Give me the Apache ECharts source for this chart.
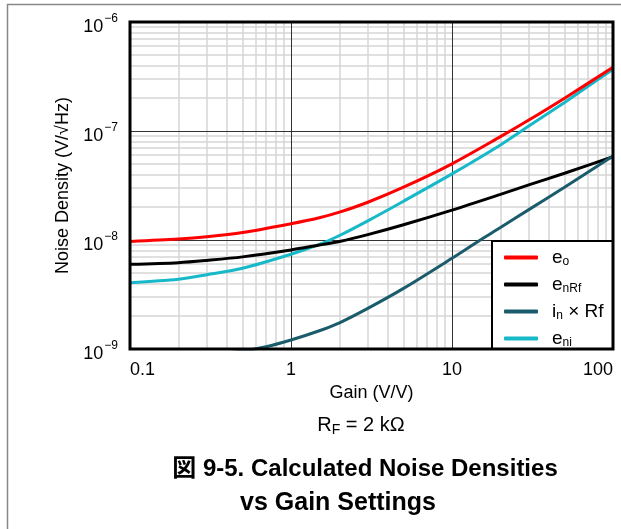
<!DOCTYPE html>
<html>
<head>
<meta charset="utf-8">
<script src="https://cdn.jsdelivr.net/npm/echarts@6/dist/echarts.min.js"></script>
<style>
html, body {margin: 0; padding: 0; background: #fff;}
#main {width: 621px; height: 529px;}
</style>
</head>
<body>
<div id="main"></div>
<script>
// gain (V/V) and noise densities (V/rtHz)
var gain = [0.1, 0.2, 0.3, 0.5, 1, 1.5, 2, 3, 5, 10, 20, 30, 50, 100];
var eo   = [9.7e-9, 1.02e-8, 1.07e-8, 1.17e-8, 1.41e-8, 1.6e-8, 1.8e-8, 2.22e-8, 3.05e-8, 5.0e-8, 8.87e-8, 1.26e-7, 2.0e-7, 3.84e-7];
var enRf = [5.98e-9, 6.2e-9, 6.5e-9, 7.0e-9, 8.1e-9, 9.0e-9, 9.7e-9, 1.12e-8, 1.38e-8, 1.88e-8, 2.62e-8, 3.2e-8, 4.1e-8, 5.8e-8];
var eni  = [4.06e-9, 4.36e-9, 4.8e-9, 5.5e-9, 7.4e-9, 9.1e-9, 1.1e-8, 1.5e-8, 2.27e-8, 4.04e-8, 7.45e-8, 1.11e-7, 1.83e-7, 3.68e-7];

var gainIn = [0.3, 0.5, 0.7, 1, 1.5, 2, 3, 5, 10, 15, 20, 30, 50, 100];
var inRf   = [0.88e-9, 0.96e-9, 1.05e-9, 1.21e-9, 1.47e-9, 1.74e-9, 2.36e-9, 3.6e-9, 6.8e-9, 1.0e-8, 1.3e-8, 1.9e-8, 3.05e-8, 5.9e-8];

var xTicks = [0.1, 1, 10, 100];
var yTicks = [1e-9, 1e-8, 1e-7, 1e-6];

var seriesNames = ['e_o', 'e_nRf', 'i_n × Rf', 'e_ni'];
var legendText = {
    'e_o': '{f|e}{s|o}',
    'e_nRf': '{f|e}{s|nRf}',
    'i_n × Rf': '{f|i}{s|n}{b| × Rf}',
    'e_ni': '{f|e}{s|ni}'
};

function pairs(xs, ys) {
    return xs.map(function (x, i) { return [x, ys[i]]; });
}

// light minor grid at 2..9 of every decade
var xMin = xTicks[0], xMax = xTicks[xTicks.length - 1];
var yMin = yTicks[0], yMax = yTicks[yTicks.length - 1];
var minorLines = [];
for (var i = 0; i < xTicks.length - 1; i++) {
    for (var k = 2; k <= 9; k++) {
        var vx = xTicks[i] * k;
        minorLines.push([{coord: [vx, yMin]}, {coord: [vx, yMax]}]);
    }
}
for (var i = 0; i < yTicks.length - 1; i++) {
    for (var k = 2; k <= 9; k++) {
        var vy = yTicks[i] * k;
        minorLines.push([{coord: [xMin, vy]}, {coord: [xMax, vy]}]);
    }
}

var font = 'Liberation Sans, Arial, sans-serif';
var chart = echarts.init(document.getElementById('main'));

var lineBase = {
    type: 'line',
    showSymbol: false,
    symbol: 'none',
    smooth: 0.3,
    z: 3,
    lineStyle: {width: 3}
};

var option = {
    animation: false,
    backgroundColor: '#fff',
    grid: {
        left: 130, right: 8, top: 22, bottom: 180,
        show: true,
        z: 5,
        backgroundColor: 'transparent',
        borderColor: '#000',
        borderWidth: 3
    },
    xAxis: {
        type: 'log',
        logBase: 10,
        min: xMin,
        max: xMax,
        z: 2,
        name: 'Gain (V/V)',
        nameLocation: 'middle',
        nameGap: 33,
        nameTextStyle: {fontFamily: font, fontSize: 18, color: '#000'},
        axisLine: {show: false},
        axisTick: {show: false},
        axisLabel: {
            fontFamily: font, fontSize: 18, color: '#000', margin: 12,
            alignMinLabel: 'left', alignMaxLabel: 'right',
            formatter: function (v) { return String(+v.toPrecision(3)); }
        },
        splitLine: {show: true, lineStyle: {color: '#333', width: 1}}
    },
    yAxis: {
        type: 'log',
        logBase: 10,
        min: yMin,
        max: yMax,
        z: 2,
        name: 'Noise Density (V/√Hz)',
        nameLocation: 'middle',
        nameGap: 50,
        nameTextStyle: {fontFamily: font, fontSize: 18, color: '#000'},
        axisLine: {show: false},
        axisTick: {show: false},
        axisLabel: {
            margin: 12,
            formatter: function (v) {
                var e = Math.round(Math.log10(v));
                return '{b|10}{s|' + (e < 0 ? '−' + (-e) : e) + '}';
            },
            rich: {
                b: {fontFamily: font, fontSize: 18, color: '#000', padding: [10, 0, 0, 0]},
                s: {fontFamily: font, fontSize: 12, color: '#000', padding: [0, 0, 6, 1]}
            }
        },
        splitLine: {show: true, lineStyle: {color: '#333', width: 1}}
    },
    legend: {
        data: seriesNames,
        orient: 'vertical',
        left: 504,
        top: 247,
        padding: 0,
        itemGap: 6,
        itemWidth: 34,
        itemHeight: 4,
        icon: 'roundRect',
        z: 6,
        formatter: function (name) { return legendText[name]; },
        textStyle: {
            color: '#000',
            rich: {
                f: {fontFamily: font, fontSize: 19, lineHeight: 20, padding: [0, 0, 0, 9]},
                b: {fontFamily: font, fontSize: 19, lineHeight: 20},
                s: {fontFamily: font, fontSize: 12, lineHeight: 20, padding: [9, 0, 0, 0]}
            }
        }
    },
    graphic: [
        {type: 'rect', z: 0, silent: true,
         shape: {x: 7.5, y: 4.5, width: 700, height: 700},
         style: {fill: 'none', stroke: '#888', lineWidth: 1.5}},
        {type: 'rect', z: 4, silent: true,
         shape: {x: 492, y: 241, width: 121, height: 108},
         style: {fill: '#fff', stroke: '#000', lineWidth: 2}},
        {type: 'text', z: 10, silent: true,
         style: {x: 361, y: 425, align: 'center', verticalAlign: 'middle',
                 text: 'R{s|F} = 2 kΩ', fill: '#000', font: '20px ' + font,
                 rich: {s: {fontFamily: font, fontSize: 14, padding: [10, 0, 0, 0]}}}},
        {type: 'text', z: 10, silent: true,
         style: {x: 365, y: 469, align: 'center', verticalAlign: 'middle',
                 text: '図 9-5. Calculated Noise Densities', fill: '#000',
                 font: 'bold 24px Liberation Sans, Noto Sans CJK JP, sans-serif'}},
        {type: 'text', z: 10, silent: true,
         style: {x: 338, y: 503, align: 'center', verticalAlign: 'middle',
                 text: 'vs Gain Settings', fill: '#000',
                 font: 'bold 25px Liberation Sans, sans-serif'}}
    ],
    series: [
        {
            type: 'line',
            name: 'minor grid',
            data: [],
            z: 1,
            silent: true,
            markLine: {
                z: 1,
                silent: true,
                symbol: 'none',
                label: {show: false},
                lineStyle: {color: '#d6d6d6', width: 1.5, type: 'solid'},
                emphasis: {disabled: true},
                data: minorLines
            }
        },
        Object.assign({}, lineBase, {name: seriesNames[3], data: pairs(gain, eni), color: '#17b9c9'}),
        Object.assign({}, lineBase, {name: seriesNames[1], data: pairs(gain, enRf), color: '#000000'}),
        Object.assign({}, lineBase, {name: seriesNames[2], data: pairs(gainIn, inRf), color: '#1b5c6c'}),
        Object.assign({}, lineBase, {name: seriesNames[0], data: pairs(gain, eo), color: '#ff0000'})
    ]
};
chart.setOption(option);
</script>
</body>
</html>
